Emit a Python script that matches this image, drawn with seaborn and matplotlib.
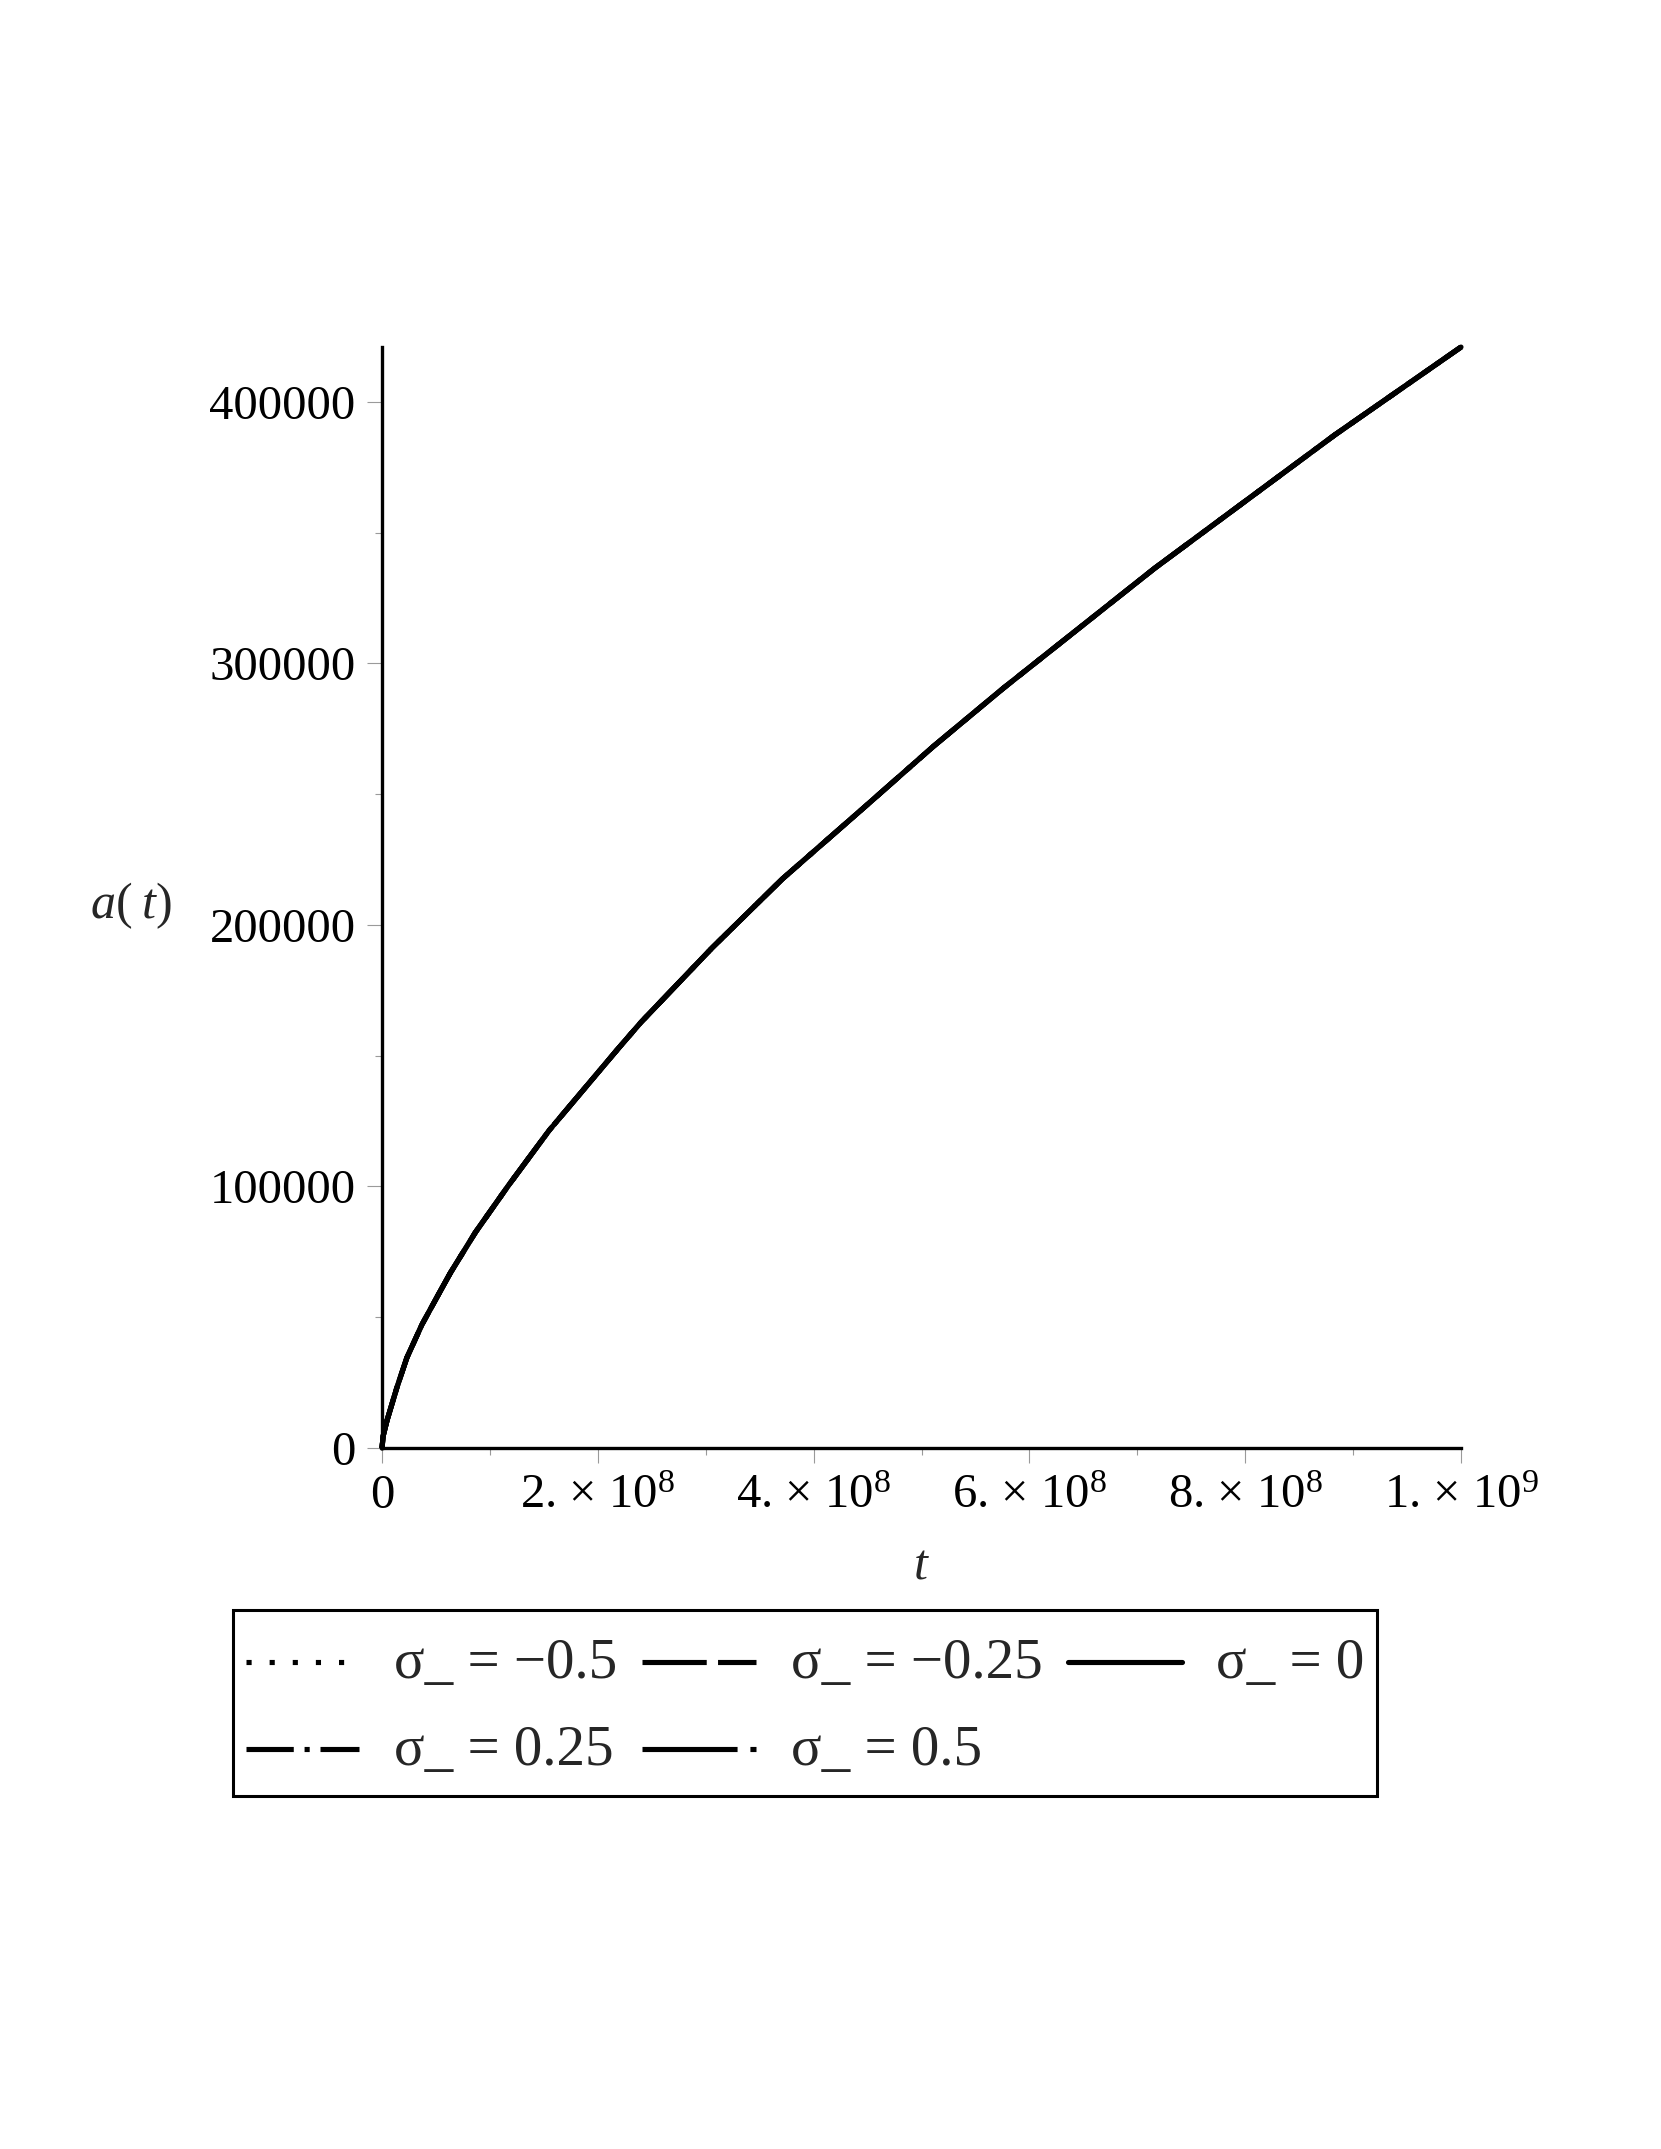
import numpy as np
import pandas as pd
import matplotlib
matplotlib.use("Agg")
import matplotlib.pyplot as plt
import seaborn as sns
from matplotlib.lines import Line2D
from matplotlib.legend_handler import HandlerLine2D
from matplotlib.ticker import FixedLocator, FixedFormatter, MultipleLocator

# values (all five sigma curves coincide at this scale)
t_values = [0, 0.01e8, 0.046e8, 0.137e8, 0.23e8, 0.37e8, 0.54e8, 0.634e8, 0.866e8,
            1.17e8, 1.41e8, 1.55e8, 2.19e8, 2.40e8, 3.06e8, 3.71e8, 4.45e8,
            5.11e8, 5.76e8, 7.16e8, 8.83e8, 10.0e8]
a_values = [0, 4500, 10500, 23000, 34500, 47200, 60000, 67000, 82500,
            100300, 113700, 121500, 152800, 162800, 191300, 217600, 244300,
            268300, 290600, 336400, 387400, 421000]

sigma_labels = ["σ_ = −0.5", "σ_ = −0.25", "σ_ = 0", "σ_ = 0.25", "σ_ = 0.5"]
sigma_dashes = [(1, 3.5), (12.5, 2.2), "", (9.2, 2.1, 1, 2.1), (18.5, 2.5, 1.2, 2.5)]

x_ticks = [0, 2e8, 4e8, 6e8, 8e8, 1e9]
x_tick_labels = ["0",
                 r"2. × $\mathregular{10^{8}}$",
                 r"4. × $\mathregular{10^{8}}$",
                 r"6. × $\mathregular{10^{8}}$",
                 r"8. × $\mathregular{10^{8}}$",
                 r"1. × $\mathregular{10^{9}}$"]
y_ticks = [0, 100000, 200000, 300000, 400000]
y_tick_labels = ["0", "100000", "200000", "300000", "400000"]


class LoweredLine(HandlerLine2D):
    # taller legend rows, but keep the line at the middle of the text
    def create_artists(self, legend, orig_handle, xdescent, ydescent,
                       width, height, fontsize, trans):
        artists = super().create_artists(legend, orig_handle, xdescent, ydescent,
                                         width, height, fontsize, trans)
        for art in artists:
            art.set_ydata(np.asarray(art.get_ydata()) - 0.2 * fontsize)
        return artists


sns.set_theme(style="white")
plt.rcParams["font.family"] = ["Liberation Serif", "DejaVu Serif"]
plt.rcParams["mathtext.fontset"] = "custom"
plt.rcParams["mathtext.rm"] = "Liberation Serif"
plt.rcParams["mathtext.it"] = "Liberation Serif:italic"

df = pd.DataFrame({
    "t": np.tile(t_values, len(sigma_labels)),
    "a": np.tile(a_values, len(sigma_labels)),
    "sigma": np.repeat(sigma_labels, len(t_values)),
})

fig = plt.figure(figsize=(16.61, 21.49), dpi=100)
ax = fig.add_axes([0.2300, 0.3262, 0.6496, 0.5123])

sns.lineplot(
    data=df,
    x="t",
    y="a",
    hue="sigma",
    style="sigma",
    palette=["black"] * len(sigma_labels),
    dashes=sigma_dashes,
    linewidth=3.7,
    estimator=None,
    sort=False,
    legend=False,
    ax=ax,
)
lines = ax.get_lines()
lines[2].set_zorder(5)
for ln in lines:
    ln.set_clip_on(False)

ax.set_xlim(0, 1e9)
ax.set_ylim(0, 421000)

for side in ["top", "right"]:
    ax.spines[side].set_visible(False)
for side in ["left", "bottom"]:
    ax.spines[side].set_color("black")
    ax.spines[side].set_linewidth(2.4)

ax.xaxis.set_major_locator(FixedLocator(x_ticks))
ax.xaxis.set_major_formatter(FixedFormatter(x_tick_labels))
ax.yaxis.set_major_locator(FixedLocator(y_ticks))
ax.yaxis.set_major_formatter(FixedFormatter(y_tick_labels))
ax.xaxis.set_minor_locator(MultipleLocator(1e8))
ax.yaxis.set_minor_locator(MultipleLocator(50000))

ax.tick_params(axis="both", which="major", bottom=True, left=True, direction="out",
               length=11, width=0.8, color="#9a9a9a", labelsize=35, pad=8,
               labelcolor="black")
ax.tick_params(axis="both", which="minor", bottom=True, left=True, direction="out",
               length=5, width=0.8, color="#9a9a9a")

ax.set_xlabel("$t$", fontsize=36, va="center")
ax.xaxis.set_label_coords(0.5, -0.107)
ax.set_ylabel(r"$a(\;t)$", fontsize=36, rotation=0, ha="center", va="center")
ax.yaxis.set_label_coords(-0.2326, 0.493)

order = [0, 3, 1, 4, 2]
leg = fig.legend(
    handles=[lines[i] for i in order],
    labels=[sigma_labels[i] for i in order],
    handler_map={Line2D: LoweredLine()},
    ncol=3,
    loc="upper left",
    bbox_to_anchor=(233 / 1661, 1 - 1610 / 2149),
    fontsize=41,
    frameon=True,
    fancybox=False,
    framealpha=1,
    edgecolor="black",
    borderpad=0.22,
    borderaxespad=0,
    handlelength=2.0,
    handleheight=1.6,
    handletextpad=0.6,
    columnspacing=0.45,
    labelspacing=0.25,
)
leg.get_frame().set_linewidth(2.2)

fig.savefig("out.png", dpi=100)
